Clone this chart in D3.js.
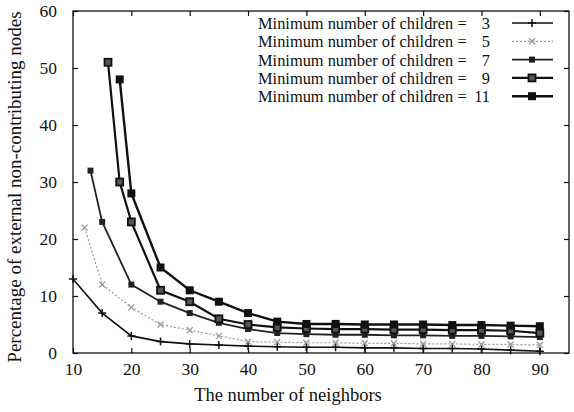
<!DOCTYPE html>
<html>
<head>
<meta charset="utf-8">
<script src="https://cdn.jsdelivr.net/npm/d3@7.9.0/dist/d3.min.js"></script>
<style>
  body { margin: 0; background: #fff; }
  svg text { font-family: "Liberation Serif", "DejaVu Serif", serif; fill: #111; white-space: pre; }
</style>
</head>
<body>
<svg id="chart" width="574" height="412"></svg>
<script>
// values
const xTicks = [10, 20, 30, 40, 50, 60, 70, 80, 90];
const yTicks = [0, 10, 20, 30, 40, 50, 60];
const tail = [25, 30, 35, 40, 45, 50, 55, 60, 65, 70, 75, 80, 85, 90];

const x3 = [10, 15, 20].concat(tail);
const y3 = [13, 7, 3, 2, 1.6, 1.4, 1.2, 1.1, 1.0, 1.0, 0.9, 0.9, 0.8, 0.8, 0.7, 0.5, 0.3];
const x5 = [12, 15, 20].concat(tail);
const y5 = [22, 12, 8, 5, 4, 3, 2, 1.9, 1.8, 1.8, 1.7, 1.7, 1.6, 1.6, 1.5, 1.5, 1.4];
const x7 = [13, 15, 20].concat(tail);
const y7 = [32, 23, 12, 9, 7, 5.3, 4.2, 3.5, 3.3, 3.2, 3.2, 3.1, 3.1, 3.0, 3.0, 2.9, 2.8];
const x9 = [16, 18, 20].concat(tail);
const y9 = [51, 30, 23, 11, 9, 6, 5, 4.5, 4.3, 4.2, 4.2, 4.1, 4.1, 4.0, 4.0, 3.9, 3.5];
const x11 = [18, 20].concat(tail);
const y11 = [48, 28, 15, 11, 9, 7, 5.5, 5.1, 5.1, 5.0, 5.0, 5.0, 4.9, 4.9, 4.8, 4.7, 4.3];

const labelText = 'Minimum number of children =';
const labelNums = ['3', '5', '7', '9', '11'];

const series = [
  { xs: x3, ys: y3, color: '#111', width: 1.6, dash: null, marker: 'plus' },
  { xs: x5, ys: y5, color: '#999', width: 1.2, dash: '2,2', marker: 'cross' },
  { xs: x7, ys: y7, color: '#222', width: 1.8, dash: null, marker: 'star' },
  { xs: x9, ys: y9, color: '#111', width: 2.2, dash: null, marker: 'open' },
  { xs: x11, ys: y11, color: '#111', width: 2.4, dash: null, marker: 'filled' }
];

const svg = d3.select('#chart');
const margin = { left: 73, right: 5, top: 11, bottom: 59 };
const W = 574, H = 412;

const x = d3.scaleLinear().domain([10, 95]).range([margin.left, W - margin.right]);
const y = d3.scaleLinear().domain([0, 60]).range([H - margin.bottom, margin.top]);

// frame
svg.append('rect')
  .attr('x', x(10)).attr('y', y(60))
  .attr('width', x(95) - x(10)).attr('height', y(0) - y(60))
  .attr('fill', 'none').attr('stroke', '#111').attr('stroke-width', 1.3);

// inward ticks, mirrored
const xAxis = svg.append('g').attr('transform', `translate(0,${y(0)})`)
  .call(d3.axisBottom(x).tickValues(xTicks).tickSize(-5).tickPadding(10).tickFormat(d3.format('d')));
const xTop = svg.append('g').attr('transform', `translate(0,${y(60)})`)
  .call(d3.axisTop(x).tickValues(xTicks).tickSize(-5).tickFormat(''));
const yAxis = svg.append('g').attr('transform', `translate(${x(10)},0)`)
  .call(d3.axisLeft(y).tickValues(yTicks).tickSize(-5).tickPadding(16));
const yRight = svg.append('g').attr('transform', `translate(${x(95)},0)`)
  .call(d3.axisRight(y).tickValues(yTicks).tickSize(-5).tickFormat(''));

[xAxis, xTop, yAxis, yRight].forEach(g => {
  g.select('.domain').remove();
  g.selectAll('line').attr('stroke', '#111').attr('stroke-width', 1.2);
  g.selectAll('text').style('font-size', '17.5px').attr('fill', '#111');
});

// axis titles
svg.append('text')
  .attr('x', 288).attr('y', 401)
  .attr('text-anchor', 'middle').style('font-size', '18.5px')
  .text('The number of neighbors');
svg.append('text')
  .attr('transform', `translate(21,187) rotate(-90)`)
  .attr('text-anchor', 'middle').style('font-size', '19px')
  .text('Percentage of external non-contributing nodes');

function drawMarker(g, kind, cx, cy, color) {
  if (kind === 'plus') {
    g.append('path').attr('d', `M${cx - 4},${cy}H${cx + 4}M${cx},${cy - 4}V${cy + 4}`)
      .attr('stroke', color).attr('stroke-width', 1.5);
  } else if (kind === 'cross') {
    g.append('path').attr('d', `M${cx - 3},${cy - 3}L${cx + 3},${cy + 3}M${cx - 3},${cy + 3}L${cx + 3},${cy - 3}`)
      .attr('stroke', color).attr('stroke-width', 1.3);
  } else if (kind === 'star') {
    g.append('rect').attr('x', cx - 3).attr('y', cy - 3).attr('width', 6).attr('height', 6)
      .attr('fill', color);
  } else if (kind === 'open') {
    g.append('rect').attr('x', cx - 3.5).attr('y', cy - 3.5).attr('width', 7).attr('height', 7)
      .attr('fill', '#555').attr('stroke', color).attr('stroke-width', 1.8);
  } else {
    g.append('rect').attr('x', cx - 4).attr('y', cy - 4).attr('width', 8).attr('height', 8)
      .attr('fill', color);
  }
}

const line = d3.line().x(d => x(d[0])).y(d => y(d[1]));

series.forEach(s => {
  const pts = s.xs.map((v, i) => [v, s.ys[i]]);
  const g = svg.append('g');
  g.append('path').datum(pts)
    .attr('d', line)
    .attr('fill', 'none')
    .attr('stroke', s.color)
    .attr('stroke-width', s.width)
    .attr('stroke-dasharray', s.dash);
  pts.forEach(p => drawMarker(g, s.marker, x(p[0]), y(p[1]), s.color));
});

// legend
const legend = svg.append('g');
labelNums.forEach((n, i) => {
  const ly = 23 + i * 18.3;
  const s = series[i];
  legend.append('text')
    .attr('x', 258).attr('y', ly + 6)
    .style('font-size', '16.4px')
    .text(labelText);
  legend.append('text')
    .attr('x', 490).attr('y', ly + 6)
    .attr('text-anchor', 'end').style('font-size', '16.4px')
    .text(n);
  legend.append('line')
    .attr('x1', 512).attr('x2', 553).attr('y1', ly).attr('y2', ly)
    .attr('stroke', s.color).attr('stroke-width', s.width)
    .attr('stroke-dasharray', s.dash);
  drawMarker(legend, s.marker, 532, ly, s.color);
});
</script>
</body>
</html>
